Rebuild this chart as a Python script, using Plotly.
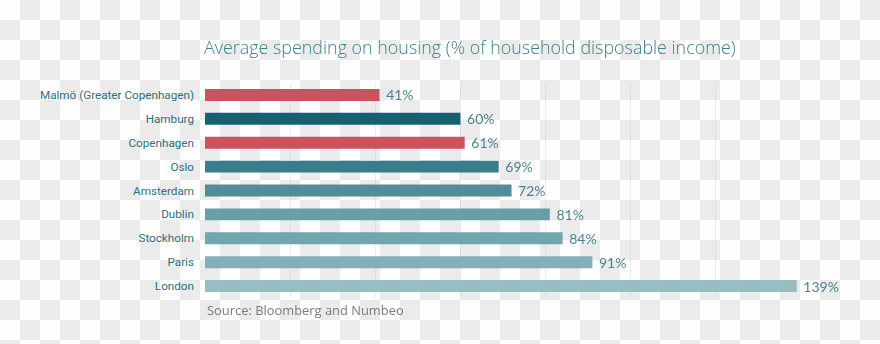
import plotly.graph_objects as go

cities = ["Malmö (Greater Copenhagen)", "Hamburg", "Copenhagen", "Oslo", "Amsterdam",
          "Dublin", "Stockholm", "Paris", "London"]
values = [41, 60, 61, 69, 72, 81, 84, 91, 139]
bar_colors = ["#c84a55", "#0b5a6b", "#c84a55", "#2f7884", "#488893",
              "#5f9ba4", "#6ba3ab", "#7dadb4", "#93bbc0"]
x_ticks = [0, 20, 40, 60, 80, 100, 120, 140]

title_text = "Average spending on housing (% of household disposable income)"
source_text = "Source: Bloomberg and Numbeo"

fig = go.Figure(go.Bar(
    x=values, y=cities, orientation="h",
    marker=dict(color=bar_colors, line=dict(width=0)),
    opacity=0.95,
    text=[f"{v}%" for v in values],
    texttemplate=" %{text}",
    textposition="outside",
    constraintext="none",
    textfont=dict(family="Lato", size=14, color="#3f7f8a"),
    cliponaxis=False,
    hoverinfo="skip",
))

fig.update_layout(
    width=880, height=344,
    margin=dict(l=205, r=79, t=83, b=46),
    paper_bgcolor="rgba(0,0,0,0)",
    plot_bgcolor="rgba(0,0,0,0)",
    bargap=0.5,
    showlegend=False,
    title=dict(text=title_text, x=204/880, xanchor="left", y=1-48/344, yanchor="middle",
               font=dict(family="Open Sans", size=17.9, weight=300, color="#3d808b")),
    xaxis=dict(range=[0, 140], tickvals=x_ticks, showticklabels=False,
               showgrid=True, gridcolor="rgba(190,190,190,0.28)", gridwidth=1,
               zeroline=False, showline=False, fixedrange=True),
    yaxis=dict(autorange="reversed", showgrid=False, zeroline=False, showline=False,
               ticklabelstandoff=10,
               tickfont=dict(family="Roboto", size=11.7, color="#2f6f7b"), fixedrange=True),
    annotations=[dict(text=source_text, xref="paper", yref="paper", x=0, y=-12/215,
                      xanchor="left", yanchor="middle", showarrow=False,
                      font=dict(family="Open Sans", size=12.9, color="#7a7a7a"))],
)

post = """
var s = 'repeating-conic-gradient(#ebebeb 0 25%, #fefefe 0 50%) 0 0/40px 40px';
document.documentElement.style.background = s;
document.body.style.background = 'transparent';
document.body.style.margin = '0';
"""

fig.write_html("out.html", post_script=post, config={"displayModeBar": False})
